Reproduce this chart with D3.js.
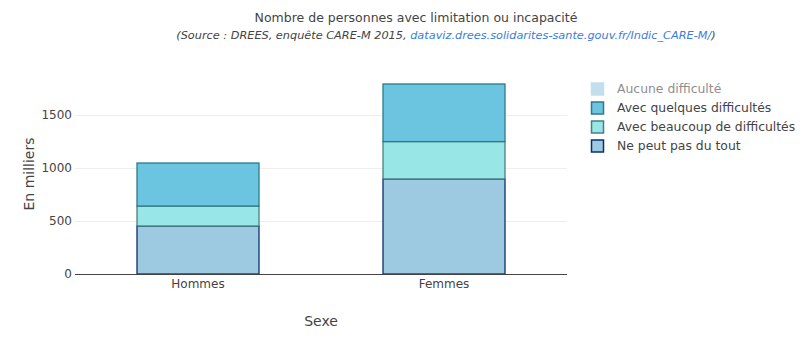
<!DOCTYPE html>
<html><head><meta charset="utf-8">
<script src="https://cdn.jsdelivr.net/npm/d3@7"></script>
<style>
body{margin:0;background:#fff;}
text{font-family:"DejaVu Sans",Verdana,sans-serif;}
</style></head>
<body><svg id="c" width="812" height="349"></svg>
<script>
const categories = ["Hommes", "Femmes"];
const nePeutPas = [452, 895];
const beaucoup = [188, 352];
const quelques = [405, 542];
const yTicks = [0, 500, 1000, 1500];
const legendLabels = ["Aucune difficulté", "Avec quelques difficultés", "Avec beaucoup de difficultés", "Ne peut pas du tout"];

const svg = d3.select("#c");
const M = {l:75, r:245, t:74, b:75};
const W = 812, H = 349;
const totals = categories.map((c,i)=>nePeutPas[i]+beaucoup[i]+quelques[i]);
const yMax = d3.max(totals)*1.0526;
const x = d3.scaleBand().domain(categories).range([M.l, W-M.r]).paddingInner(0.5).paddingOuter(0.25);
const y = d3.scaleLinear().domain([0, yMax]).range([H-M.b, M.t]);

// grid
svg.append("g").selectAll("line").data(yTicks.filter(d=>d>0)).join("line")
  .attr("x1", M.l).attr("x2", W-M.r)
  .attr("y1", d=>Math.round(y(d))+0.5).attr("y2", d=>Math.round(y(d))+0.5)
  .attr("stroke", "#eee").attr("stroke-width", 1);

const series = [
  {name:"Ne peut pas du tout", vals:nePeutPas, fill:"#9ecae1", stroke:"#08306b"},
  {name:"Avec beaucoup de difficultés", vals:beaucoup, fill:"#99e6e6", stroke:"#4a8080"},
  {name:"Avec quelques difficultés", vals:quelques, fill:"#6cc5e0", stroke:"#2c7a8c"}
];
const stack = d3.stack().keys(d3.range(series.length))
  .value((d,k)=>series[k].vals[d])(d3.range(categories.length));
stack.forEach((layer,k)=>{
  svg.append("g").selectAll("rect").data(layer).join("rect")
    .attr("x", (d,i)=>x(categories[i])+0.5)
    .attr("width", x.bandwidth()-1)
    .attr("y", d=>y(d[1]))
    .attr("height", d=>y(d[0])-y(d[1]))
    .attr("fill", series[k].fill)
    .attr("stroke", series[k].stroke).attr("stroke-width", 1.3);
});

// zero line
svg.append("line").attr("x1", M.l).attr("x2", W-M.r)
  .attr("y1", y(0)+0.5).attr("y2", y(0)+0.5).attr("stroke", "#444").attr("stroke-width", 1);

// y tick labels
svg.append("g").selectAll("text").data(yTicks).join("text")
  .attr("x", M.l-3).attr("y", d=>y(d)).attr("dy", "0.35em")
  .attr("text-anchor", "end").attr("font-size", 12).attr("fill", "#444").text(d=>d);
// x tick labels
svg.append("g").selectAll("text").data(categories).join("text")
  .attr("x", d=>x(d)+x.bandwidth()/2).attr("y", y(0)+14)
  .attr("text-anchor", "middle").attr("font-size", 12).attr("fill", "#444").text(d=>d);

// axis titles
svg.append("text").attr("x", (M.l+W-M.r)/2).attr("y", 326).attr("text-anchor", "middle")
  .attr("font-size", 14).attr("fill", "#444").text("Sexe");
svg.append("text").attr("transform", `translate(34,${(M.t+H-M.b)/2}) rotate(-90)`)
  .attr("text-anchor", "middle").attr("font-size", 14).attr("fill", "#444").text("En milliers");

// title
svg.append("text").attr("x", 416).attr("y", 22).attr("text-anchor", "middle")
  .attr("font-size", 12.5).attr("fill", "#444").text("Nombre de personnes avec limitation ou incapacité");
const sub = svg.append("text").attr("x", 446).attr("y", 39).attr("text-anchor", "middle")
  .attr("font-size", 11.3).attr("font-style", "italic").attr("fill", "#444");
sub.append("tspan").text("(Source : DREES, enquête CARE-M 2015, ");
sub.append("tspan").attr("fill", "#3b7ddd").text("dataviz.drees.solidarites-sante.gouv.fr/Indic_CARE-M/");
sub.append("tspan").text(")");

// legend
const legStyles = [
  {fill:"#9ecae1", stroke:"#9ecae1", op:0.6},
  {fill:"#6cc5e0", stroke:"#2c7a8c", op:1},
  {fill:"#99e6e6", stroke:"#4a8080", op:1},
  {fill:"#9ecae1", stroke:"#08306b", op:1}
];
const lg = svg.append("g").selectAll("g").data(legendLabels).join("g")
  .attr("transform", (d,i)=>`translate(591,${89+i*19})`).attr("opacity", (d,i)=>legStyles[i].op);
lg.append("rect").attr("x", 0.5).attr("y", -6).attr("width", 12).attr("height", 12)
  .attr("fill", (d,i)=>legStyles[i].fill).attr("stroke", (d,i)=>legStyles[i].stroke).attr("stroke-width", 1.5);
lg.append("text").attr("x", 26).attr("dy", "0.35em").attr("font-size", 12.4).attr("fill", "#444").text(d=>d);
</script></body></html>
